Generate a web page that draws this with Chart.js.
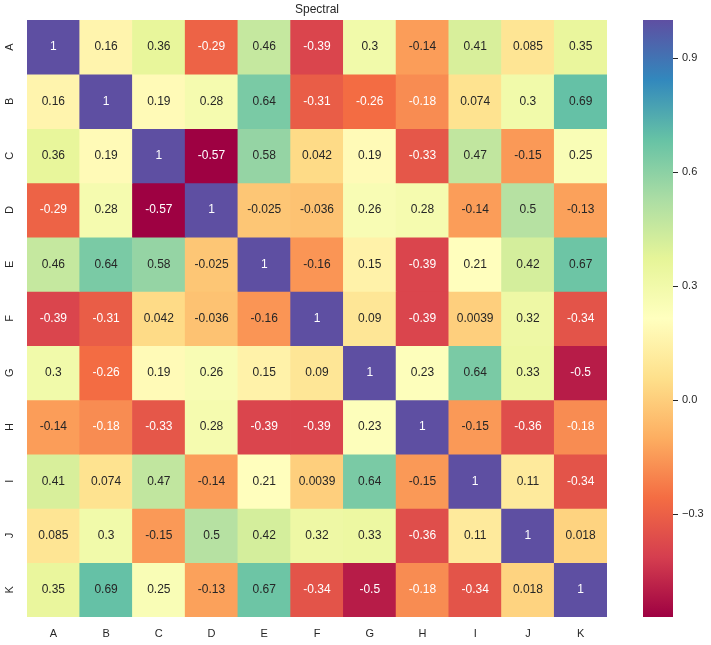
<!DOCTYPE html>
<html>
<head>
<meta charset="utf-8">
<script src="https://cdn.jsdelivr.net/npm/chart.js@4.4.0/dist/chart.umd.min.js"></script>
<style>
  body { margin: 0; background: #fff; }
  #wrap { position: relative; width: 711px; height: 645px; }
  #heat { position: absolute; left: 0; top: 0; }
  #cbar { position: absolute; left: 630px; top: 0; }
</style>
</head>
<body>
<div id="wrap">
  <canvas id="heat" width="630" height="645"></canvas>
  <canvas id="cbar" width="81" height="645"></canvas>
</div>
<script>
var labels = ["A", "B", "C", "D", "E", "F", "G", "H", "I", "J", "K"];
var rowA = [1, 0.16, 0.36, -0.29, 0.46, -0.39, 0.3, -0.14, 0.41, 0.085, 0.35];
var rowB = [0.16, 1, 0.19, 0.28, 0.64, -0.31, -0.26, -0.18, 0.074, 0.3, 0.69];
var rowC = [0.36, 0.19, 1, -0.57, 0.58, 0.042, 0.19, -0.33, 0.47, -0.15, 0.25];
var rowD = [-0.29, 0.28, -0.57, 1, -0.025, -0.036, 0.26, 0.28, -0.14, 0.5, -0.13];
var rowE = [0.46, 0.64, 0.58, -0.025, 1, -0.16, 0.15, -0.39, 0.21, 0.42, 0.67];
var rowF = [-0.39, -0.31, 0.042, -0.036, -0.16, 1, 0.09, -0.39, 0.0039, 0.32, -0.34];
var rowG = [0.3, -0.26, 0.19, 0.26, 0.15, 0.09, 1, 0.23, 0.64, 0.33, -0.5];
var rowH = [-0.14, -0.18, -0.33, 0.28, -0.39, -0.39, 0.23, 1, -0.15, -0.36, -0.18];
var rowI = [0.41, 0.074, 0.47, -0.14, 0.21, 0.0039, 0.64, -0.15, 1, 0.11, -0.34];
var rowJ = [0.085, 0.3, -0.15, 0.5, 0.42, 0.32, 0.33, -0.36, 0.11, 1, 0.018];
var rowK = [0.35, 0.69, 0.25, -0.13, 0.67, -0.34, -0.5, -0.18, -0.34, 0.018, 1];
var matrix = [rowA, rowB, rowC, rowD, rowE, rowF, rowG, rowH, rowI, rowJ, rowK];
var colorbarTicks = [-0.3, 0.0, 0.3, 0.6, 0.9];
var vmin = -0.57, vmax = 1;

// matplotlib "Spectral"
var spectral = [
  [158, 1, 66], [213, 62, 79], [244, 109, 67], [253, 174, 97], [254, 224, 139],
  [255, 255, 191], [230, 245, 152], [171, 221, 164], [102, 194, 165], [50, 136, 189], [94, 79, 162]
];

function cmap(v) {
  var t = (v - vmin) / (vmax - vmin);
  t = Math.max(0, Math.min(1, t)) * (spectral.length - 1);
  var i = Math.min(Math.floor(t), spectral.length - 2);
  var f = t - i;
  var a = spectral[i], b = spectral[i + 1];
  return [0, 1, 2].map(function (k) { return Math.round(a[k] + (b[k] - a[k]) * f); });
}
function rgb(c) { return 'rgb(' + c[0] + ',' + c[1] + ',' + c[2] + ')'; }
function textColor(c) {
  var lin = c.map(function (x) {
    x = x / 255;
    return x <= 0.03928 ? x / 12.92 : Math.pow((x + 0.055) / 1.055, 2.4);
  });
  var lum = 0.2126 * lin[0] + 0.7152 * lin[1] + 0.0722 * lin[2];
  return lum > 0.408 ? '#262626' : '#ffffff';
}
function fmt(v) { return String(Number(v.toPrecision(2))); }

var FONT = "'Liberation Sans', Arial, sans-serif";
var dark = '#262626';

var datasets = matrix.map(function (row, r) {
  return {
    label: labels[r],
    data: row.map(function () { return [r, r + 1]; }),
    backgroundColor: row.map(function (v) { return rgb(cmap(v)); }),
    borderWidth: 0,
    grouped: false,
    barPercentage: 1,
    categoryPercentage: 1
  };
});

var annotate = {
  id: 'annotate',
  afterDatasetsDraw: function (chart) {
    var ctx = chart.ctx, xs = chart.scales.x, ys = chart.scales.y;
    ctx.save();
    ctx.font = '12px ' + FONT;
    ctx.textAlign = 'center';
    ctx.textBaseline = 'middle';
    matrix.forEach(function (row, r) {
      row.forEach(function (v, c) {
        ctx.fillStyle = textColor(cmap(v));
        ctx.fillText(fmt(v), xs.getPixelForValue(c), ys.getPixelForValue(r + 0.5));
      });
    });
    var ca = chart.chartArea;
    ctx.fillStyle = dark;
    ctx.fillText('Spectral', (ca.left + ca.right) / 2, 10);
    ctx.restore();
  }
};

new Chart(document.getElementById('heat').getContext('2d'), {
  type: 'bar',
  data: { labels: labels, datasets: datasets },
  plugins: [annotate],
  options: {
    responsive: false,
    animation: false,
    layout: { padding: { top: 20, right: 23, left: 0, bottom: 0 } },
    plugins: { legend: { display: false }, tooltip: { enabled: false }, title: { display: false } },
    scales: {
      x: {
        type: 'category',
        grid: { display: false, drawTicks: false },
        border: { display: false },
        ticks: { color: dark, font: { family: FONT, size: 11 }, padding: 10, maxRotation: 0 },
        afterFit: function (s) { s.height = 28; }
      },
      y: {
        type: 'linear',
        min: 0,
        max: labels.length,
        reverse: true,
        grid: { display: false, drawTicks: false },
        border: { display: false },
        afterBuildTicks: function (s) {
          s.ticks = labels.map(function (l, i) { return { value: i + 0.5 }; });
        },
        ticks: {
          color: dark,
          font: { family: FONT, size: 11 },
          minRotation: 90,
          maxRotation: 90,
          crossAlign: 'center',
          padding: 13,
          callback: function (v) { return labels[Math.floor(v)]; }
        },
        afterFit: function (s) { s.width = 27; }
      }
    }
  }
});

new Chart(document.getElementById('cbar').getContext('2d'), {
  type: 'bar',
  data: {
    labels: [''],
    datasets: [{
      data: [[vmin, vmax]],
      borderWidth: 0,
      barPercentage: 1,
      categoryPercentage: 1,
      backgroundColor: function (c) {
        var chart = c.chart;
        if (!chart.chartArea) return null;
        var ys = chart.scales.y;
        var g = chart.ctx.createLinearGradient(0, ys.getPixelForValue(vmin), 0, ys.getPixelForValue(vmax));
        spectral.forEach(function (col, i) {
          g.addColorStop(i / (spectral.length - 1), rgb(col));
        });
        return g;
      }
    }]
  },
  options: {
    responsive: false,
    animation: false,
    layout: { padding: { top: 20, left: 13, right: 0, bottom: 28 } },
    plugins: { legend: { display: false }, tooltip: { enabled: false } },
    scales: {
      x: { display: false },
      y: {
        position: 'right',
        min: vmin,
        max: vmax,
        grid: { display: true, drawOnChartArea: false, drawTicks: true, tickLength: 5, color: dark, lineWidth: 1 },
        border: { display: false },
        afterBuildTicks: function (s) {
          s.ticks = colorbarTicks.map(function (v) { return { value: v }; });
        },
        ticks: {
          color: dark,
          font: { family: FONT, size: 11 },
          padding: 4,
          callback: function (v) { return v.toFixed(1).replace('-', '\u2212'); }
        },
        afterFit: function (s) { s.width = 38; }
      }
    }
  }
});
</script>
</body>
</html>
